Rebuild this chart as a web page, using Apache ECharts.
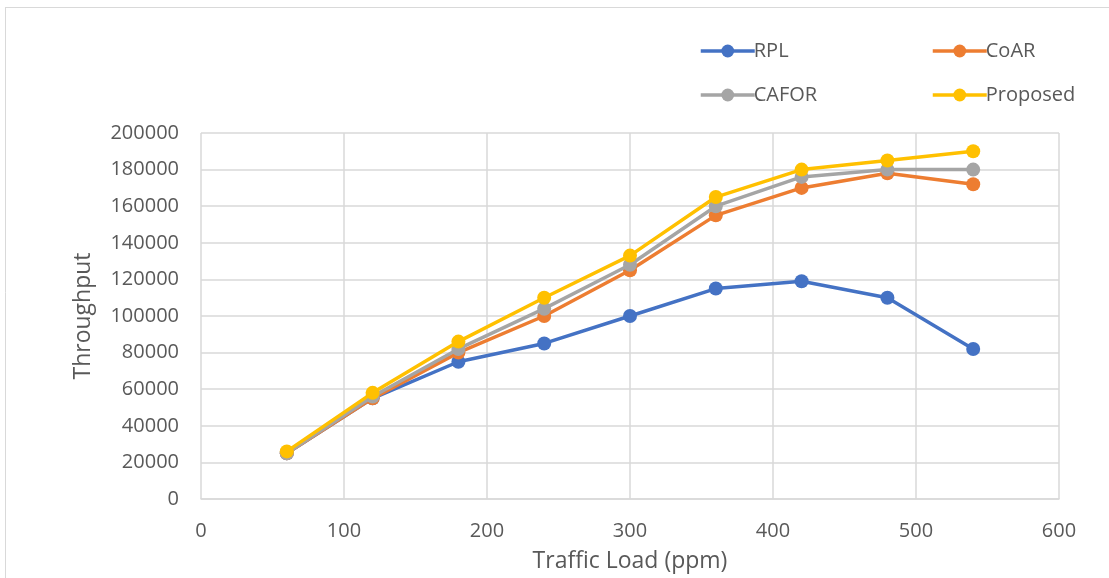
<!DOCTYPE html>
<html>
<head>
<meta charset="utf-8">
<script src="https://cdn.jsdelivr.net/npm/echarts@6/dist/echarts.min.js"></script>
<style>
  html, body { margin: 0; padding: 0; background: #fff; }
  #chart { width: 1109px; height: 578px; }
</style>
</head>
<body>
<div id="chart"></div>
<script>
// Traffic load (ppm) on the x axis
const trafficLoad = [60, 120, 180, 240, 300, 360, 420, 480, 540];

// Throughput per protocol
const rplValues      = [25000, 55000, 75000, 85000, 100000, 115000, 119000, 110000, 82000];
const coarValues     = [25000, 55000, 80000, 100000, 125000, 155000, 170000, 178000, 172000];
const caforValues    = [25000, 56000, 82000, 104000, 128000, 160000, 176000, 180000, 180000];
const proposedValues = [26000, 58000, 86000, 110000, 133000, 165000, 180000, 185000, 190000];

const seriesNames  = ['RPL', 'CoAR', 'CAFOR', 'Proposed'];
const seriesColors = ['#4472C4', '#ED7D31', '#A5A5A5', '#FFC000'];
const seriesValues = [rplValues, coarValues, caforValues, proposedValues];

const font = 'Open Sans, Liberation Sans, sans-serif';
const textColor = '#595959';
const gridColor = '#D9D9D9';

const chart = echarts.init(document.getElementById('chart'));

const legendCommon = {
  orient: 'vertical',
  top: 36,
  itemWidth: 54,
  itemHeight: 16,
  itemGap: 24,
  lineStyle: { width: 3.5 },
  textStyle: { fontFamily: font, fontSize: 20, color: textColor, padding: [0, 0, 0, -6] }
};

chart.setOption({
  backgroundColor: '#fff',
  animation: false,
  graphic: [
    { type: 'line', shape: { x1: 5.5, y1: 7, x2: 5.5, y2: 578 }, style: { stroke: '#D9D9D9', lineWidth: 1 } },
    { type: 'line', shape: { x1: 5, y1: 7.5, x2: 1109, y2: 7.5 }, style: { stroke: '#D9D9D9', lineWidth: 1 } }
  ],
  legend: [
    Object.assign({ left: 694, data: ['RPL', 'CAFOR'] }, legendCommon),
    Object.assign({ left: 926, data: ['CoAR', 'Proposed'] }, legendCommon)
  ],
  grid: { left: 201, right: 50, top: 133, bottom: 78 },
  xAxis: {
    type: 'value',
    min: 0, max: 600, interval: 100,
    name: 'Traffic Load (ppm)',
    nameLocation: 'middle',
    nameGap: 51,
    nameTextStyle: { fontFamily: font, fontSize: 23, color: textColor },
    axisLine: { show: true, lineStyle: { color: gridColor, width: 1.5 } },
    axisTick: { show: false },
    axisLabel: { fontFamily: font, fontSize: 20, color: textColor, margin: 22 },
    splitLine: { show: true, lineStyle: { color: gridColor, width: 1.5 } }
  },
  yAxis: {
    type: 'value',
    min: 0, max: 200000, interval: 20000,
    name: 'Throughput',
    nameLocation: 'middle',
    nameGap: 106,
    nameTextStyle: { fontFamily: font, fontSize: 23, color: textColor },
    axisLine: { show: false },
    axisTick: { show: false },
    axisLabel: { fontFamily: font, fontSize: 20, color: textColor, margin: 22, formatter: v => String(v) },
    splitLine: { show: true, lineStyle: { color: gridColor, width: 1.5 } }
  },
  series: seriesNames.map((name, i) => ({
    name,
    type: 'line',
    data: trafficLoad.map((x, j) => [x, seriesValues[i][j]]),
    symbol: 'circle',
    symbolSize: 14,
    lineStyle: { width: 3.5, color: seriesColors[i] },
    itemStyle: { color: seriesColors[i] },
    z: 2 + i
  }))
});
</script>
</body>
</html>
